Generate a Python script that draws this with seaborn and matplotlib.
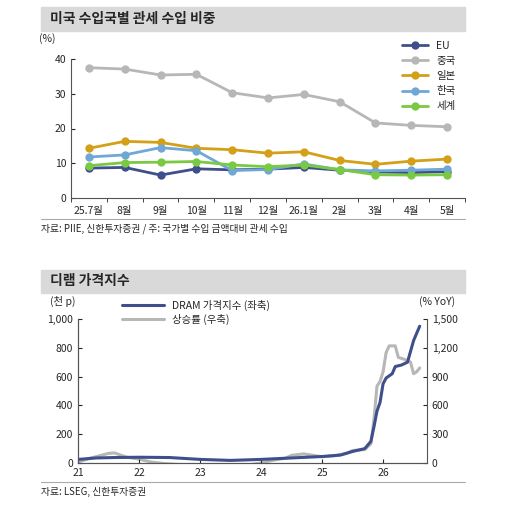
import matplotlib.pyplot as plt
import pandas as pd
import seaborn as sns

# top chart: tariff revenue share by country
months = ['25.7월', '8월', '9월', '10월', '11월', '12월', '26.1월', '2월', '3월', '4월', '5월']
eu = [8.6, 8.8, 6.6, 8.4, 8.1, 8.3, 8.8, 8.0, 7.5, 7.3, 7.6]
china = [37.5, 37.1, 35.4, 35.6, 30.3, 28.8, 29.8, 27.7, 21.6, 20.9, 20.5]
japan = [14.3, 16.3, 16.0, 14.3, 13.9, 12.9, 13.3, 10.8, 9.7, 10.6, 11.2]
korea = [11.8, 12.4, 14.5, 13.6, 7.9, 8.2, 9.8, 8.1, 7.8, 8.0, 8.3]
world = [9.3, 10.2, 10.3, 10.5, 9.5, 9.0, 9.5, 8.2, 6.7, 6.6, 6.7]
series = {'EU': eu, '중국': china, '일본': japan, '한국': korea, '세계': world}
colors = {'EU': '#3f4f8c', '중국': '#b7b7b7', '일본': '#d4a017', '한국': '#6fa8d6', '세계': '#7ac943'}

# bottom chart: DRAM price index and YoY
dram_t = [2021.0, 2021.3, 2021.6, 2022.0, 2022.5, 2023.0, 2023.5, 2024.0, 2024.5, 2025.0, 2025.3,
          2025.5, 2025.7, 2025.8, 2025.85, 2025.9, 2025.95, 2026.0, 2026.05, 2026.15, 2026.2,
          2026.3, 2026.4, 2026.5, 2026.6]
dram = [25, 35, 38, 40, 38, 25, 18, 25, 35, 45, 55, 80, 100, 150, 250, 360, 420, 550, 590, 620,
        670, 680, 700, 850, 950]
yoy_t = [2021.0, 2021.2, 2021.5, 2021.6, 2021.8, 2022.0, 2022.2, 2022.4, 2023.0, 2023.6, 2024.0,
         2024.2, 2024.4, 2024.5, 2024.7, 2024.9, 2025.0, 2025.2, 2025.4, 2025.5, 2025.7, 2025.8,
         2025.85, 2025.9, 2025.95, 2026.0, 2026.05, 2026.1, 2026.2, 2026.25, 2026.35, 2026.45,
         2026.5, 2026.55, 2026.6]
yoy = [10, 50, 100, 105, 60, 40, 10, -5, -30, -40, 0, 30, 50, 80, 95, 75, 65, 75, 100, 130, 140,
       200, 450, 800, 850, 950, 1150, 1220, 1220, 1100, 1080, 1050, 930, 950, 990]

sns.set_style('white')
plt.rcParams['font.family'] = ['Noto Sans CJK KR', 'DejaVu Sans']
fig = plt.figure(figsize=(5.15, 5.08), dpi=100)
W, H = 515, 508


def box(x0, y0, x1, y1):
    return [x0 / W, 1 - y1 / H, (x1 - x0) / W, (y1 - y0) / H]


def header(y0, y1, text):
    fig.patches.append(plt.Rectangle((41 / W, 1 - y1 / H), 424 / W, (y1 - y0) / H,
                                     transform=fig.transFigure, color='#d9d9d9', zorder=0))
    fig.text(50 / W, 1 - (y0 + y1) / 2 / H, text, fontsize=10, fontweight='bold', va='center')


header(7, 31, '미국 수입국별 관세 수입 비중')
header(270, 293, '디램 가격지수')
for y in (219, 482):
    fig.add_artist(plt.Line2D([41 / W, 465 / W], [1 - y / H] * 2, color='#aaaaaa', lw=0.8))
fig.text(41 / W, 1 - 229 / H, '자료: PIIE, 신한투자증권 / 주: 국가별 수입 금액대비 관세 수입', fontsize=7, va='center')
fig.text(41 / W, 1 - 492 / H, '자료: LSEG, 신한투자증권', fontsize=7, va='center')

# top
ax = fig.add_axes(box(71, 59, 465, 198))
long = pd.DataFrame([(m, i, k, v[i]) for k, v in series.items() for i, m in enumerate(months)],
                    columns=['month', 'x', 'country', 'value'])
sns.lineplot(data=long, x='x', y='value', hue='country', palette=colors, marker='o',
             markersize=6, markeredgewidth=0, lw=2, ax=ax)
ax.set_xlim(-0.5, 10.5)
ax.set_ylim(0, 40)
ax.set_yticks([0, 10, 20, 30, 40])
ax.set_xticks(range(11))
ax.set_xticklabels(months)
ax.set_xticks([i - 0.5 for i in range(12)], minor=True)
ax.tick_params(axis='x', which='major', length=0, labelsize=7.5, pad=6)
ax.tick_params(axis='x', which='minor', length=3, direction='out', bottom=True)
ax.tick_params(axis='y', labelsize=7.5, length=3, direction='in', left=True)
for s in ('top', 'right'):
    ax.spines[s].set_visible(False)
for s in ('left', 'bottom'):
    ax.spines[s].set_color('#555555')
ax.set_xlabel('')
ax.set_ylabel('')
ax.text(-0.08, 1.12, '(%)', transform=ax.transAxes, fontsize=7.5)
ax.legend(loc='upper right', bbox_to_anchor=(1.0, 1.2), frameon=False, fontsize=7.5,
          handlelength=2.5, labelspacing=0.5)

# bottom
ax2 = fig.add_axes(box(78, 319, 427, 463))
sns.lineplot(x=dram_t, y=dram, color='#3f4f8c', lw=2.2, ax=ax2, label='DRAM 가격지수 (좌축)', zorder=3)
ax3 = ax2.twinx()
sns.lineplot(x=yoy_t, y=yoy, color='#b7b7b7', lw=2.2, ax=ax3, label='상승률 (우축)')
ax2.set_zorder(ax3.get_zorder() + 1)
ax2.patch.set_visible(False)
ax2.set_xlim(2021, 2026.72)
ax2.set_ylim(0, 1000)
ax3.set_ylim(0, 1500)
ax2.set_xticks(range(2021, 2027))
ax2.set_xticklabels(['21', '22', '23', '24', '25', '26'])
ax2.set_yticks(range(0, 1001, 200))
ax2.set_yticklabels(['0', '200', '400', '600', '800', '1,000'])
ax3.set_yticks(range(0, 1501, 300))
ax3.set_yticklabels(['0', '300', '600', '900', '1,200', '1,500'])
ax2.tick_params(axis='both', labelsize=7.5, length=3, direction='in', left=True, bottom=True)
ax3.tick_params(axis='y', labelsize=7.5, length=3, direction='in', right=True)
for a in (ax2, ax3):
    a.spines['top'].set_visible(False)
    for s in ('left', 'bottom', 'right'):
        a.spines[s].set_color('#555555')
ax2.spines['right'].set_visible(False)
h1, l1 = ax2.get_legend_handles_labels()
h2, l2 = ax3.get_legend_handles_labels()
ax3.get_legend().remove()
ax2.legend(h1 + h2, l1 + l2, loc='upper left', bbox_to_anchor=(0.1, 1.2), frameon=False,
           fontsize=7.5, handlelength=4, labelspacing=0.3)
ax2.text(-0.08, 1.1, '(천 p)', transform=ax2.transAxes, fontsize=7.5)
ax3.text(1.08, 1.1, '(% YoY)', transform=ax3.transAxes, fontsize=7.5, ha='right')

fig.savefig('out.png', dpi=100)
